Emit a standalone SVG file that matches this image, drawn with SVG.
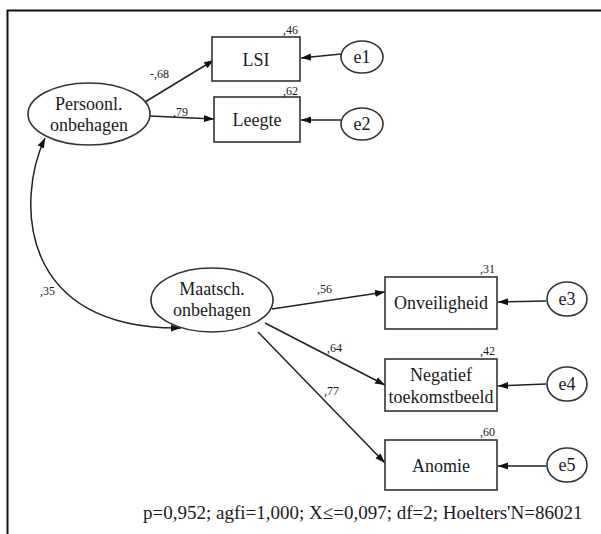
<svg xmlns="http://www.w3.org/2000/svg" width="601" height="534" viewBox="0 0 601 534">
<style>
.n{fill:#fff;stroke:#333;stroke-width:1.6}
.t{font-family:'Liberation Serif',serif;font-size:18px;fill:#1a1a1a}
.l{font-family:'Liberation Serif',serif;font-size:12px;fill:#1a1a1a}
.c{fill:none;stroke:#222;stroke-width:1.5}
</style>
<defs>
<marker id="ah" markerUnits="userSpaceOnUse" markerWidth="10" markerHeight="8" refX="10" refY="4" orient="auto-start-reverse" viewBox="0 0 10 8">
<path d="M0,0.5 L10,4 L0,7.5 z" fill="#111"/>
</marker>
</defs>
<rect x="0" y="0" width="601" height="534" fill="#fff"/>
<path d="M7.5,534 V10.5 H601" fill="none" stroke="#111" stroke-width="2"/>
<g id="connectors">
<path class="c" marker-end="url(#ah)" d="M145,102 L214,60"/>
<path class="c" marker-end="url(#ah)" d="M150,116 L214,119"/>
<path class="c" marker-end="url(#ah)" d="M341,54 L301,58"/>
<path class="c" marker-end="url(#ah)" d="M341,120 L301,120"/>
<path class="c" marker-start="url(#ah)" marker-end="url(#ah)" d="M45,138 C16,200 18,330 181,328"/>
<path class="c" marker-end="url(#ah)" d="M272,309 L385,292"/>
<path class="c" marker-end="url(#ah)" d="M265,323 L385,385"/>
<path class="c" marker-end="url(#ah)" d="M258,332 L385,463"/>
<path class="c" marker-end="url(#ah)" d="M546,301 L498,302"/>
<path class="c" marker-end="url(#ah)" d="M546,384 L498,386"/>
<path class="c" marker-end="url(#ah)" d="M546,466 L498,466"/>
<text class="l" font-family="Liberation Serif" x="150" y="78">-,68</text>
<text class="l" font-family="Liberation Serif" x="173" y="116">,79</text>
<text class="l" font-family="Liberation Serif" x="40" y="295">,35</text>
<text class="l" font-family="Liberation Serif" x="317" y="293">,56</text>
<text class="l" font-family="Liberation Serif" x="327" y="352">,64</text>
<text class="l" font-family="Liberation Serif" x="324" y="395">,77</text>
</g>
<g id="persoonl">
<ellipse class="n" cx="89" cy="114" rx="61" ry="31"/>
<text class="t" font-family="Liberation Serif" x="55" y="110">Persoonl.</text>
<text class="t" font-family="Liberation Serif" x="50" y="131">onbehagen</text>
</g>
<g id="lsi">
<rect class="n" x="212" y="37" width="88" height="44"/>
<text class="t" font-family="Liberation Serif" x="242.5" y="66">LSI</text>
<text class="l" font-family="Liberation Serif" x="283" y="34">,46</text>
</g>
<g id="leegte">
<rect class="n" x="214" y="97" width="86" height="45"/>
<text class="t" font-family="Liberation Serif" x="232.5" y="126">Leegte</text>
<text class="l" font-family="Liberation Serif" x="283" y="95">,62</text>
</g>
<g id="e1">
<ellipse class="n" cx="362" cy="57" rx="21" ry="16"/>
<text class="t" font-family="Liberation Serif" x="353.5" y="63">e1</text>
</g>
<g id="e2">
<ellipse class="n" cx="362" cy="124" rx="21" ry="16"/>
<text class="t" font-family="Liberation Serif" x="353.5" y="130">e2</text>
</g>
<g id="maatsch">
<ellipse class="n" cx="212" cy="300" rx="61" ry="32"/>
<text class="t" font-family="Liberation Serif" x="179.3" y="295">Maatsch.</text>
<text class="t" font-family="Liberation Serif" x="173" y="316">onbehagen</text>
</g>
<g id="onveiligheid">
<rect class="n" x="385" y="277" width="112" height="52"/>
<text class="t" font-family="Liberation Serif" x="394" y="309">Onveiligheid</text>
<text class="l" font-family="Liberation Serif" x="480" y="273">,31</text>
</g>
<g id="negatief">
<rect class="n" x="385" y="359" width="112" height="52"/>
<text class="t" font-family="Liberation Serif" x="410" y="381">Negatief</text>
<text class="t" font-family="Liberation Serif" x="388.5" y="403">toekomstbeeld</text>
<text class="l" font-family="Liberation Serif" x="480" y="355">,42</text>
</g>
<g id="anomie">
<rect class="n" x="385" y="440" width="112" height="50"/>
<text class="t" font-family="Liberation Serif" x="412" y="472">Anomie</text>
<text class="l" font-family="Liberation Serif" x="480" y="436">,60</text>
</g>
<g id="e3">
<ellipse class="n" cx="567" cy="299" rx="20" ry="17"/>
<text class="t" font-family="Liberation Serif" x="558.5" y="305">e3</text>
</g>
<g id="e4">
<ellipse class="n" cx="567" cy="384" rx="20" ry="17"/>
<text class="t" font-family="Liberation Serif" x="558.5" y="390">e4</text>
</g>
<g id="e5">
<ellipse class="n" cx="567" cy="465" rx="20" ry="17"/>
<text class="t" font-family="Liberation Serif" x="558.5" y="471">e5</text>
</g>
<text class="t" font-family="Liberation Serif" font-size="19" style="font-size:19px" x="143" y="519">p=0,952; agfi=1,000; X≤=0,097; df=2; Hoelters'N=86021</text>
</svg>
